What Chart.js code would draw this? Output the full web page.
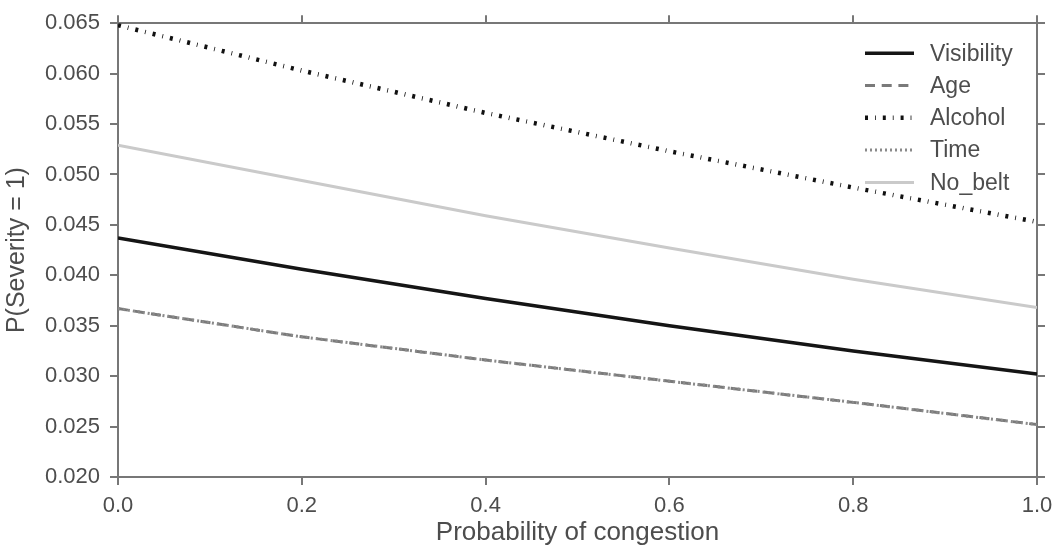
<!DOCTYPE html>
<html>
<head>
<meta charset="utf-8">
<script src="https://cdn.jsdelivr.net/npm/chart.js@4"></script>
<style>
  html, body { margin: 0; padding: 0; background: #fff; }
  #wrap { width: 1063px; height: 550px; }
</style>
</head>
<body>
<div id="wrap"><canvas id="chart"></canvas></div>
<script>
// values
const congestion = [0, 0.2, 0.4, 0.6, 0.8, 1.0];
const visibility = [0.0437, 0.0406, 0.0377, 0.0350, 0.0325, 0.0302];
const age = [0.0367, 0.0339, 0.0316, 0.0295, 0.0274, 0.0252];
const alcohol = [0.0648, 0.0603, 0.0561, 0.0523, 0.0487, 0.0453];
const time = [0.0367, 0.0339, 0.0316, 0.0295, 0.0274, 0.0252];
const noBelt = [0.0529, 0.0494, 0.0459, 0.0427, 0.0396, 0.0368];
const seriesNames = ["Visibility", "Age", "Alcohol", "Time", "No_belt"];

const FONT = "'Liberation Sans', Arial, sans-serif";
const TEXT = "#4d4d4d";
const AXIS = "#777777";

function points(ys) {
    return congestion.map(function (x, i) {
        return { x: x, y: ys[i] };
    });
}

var datasets = [
    { label: seriesNames[0], data: points(visibility), borderColor: "#151515", borderWidth: 3.5, borderDash: [], order: 5 },
    { label: seriesNames[1], data: points(age), borderColor: "#7a7a7a", borderWidth: 3, borderDash: [10, 6.7], order: 4 },
    { label: seriesNames[2], data: points(alcohol), borderColor: "#111111", borderWidth: 4.5, borderDash: [3, 7, 0.8, 7], order: 3 },
    { label: seriesNames[3], data: points(time), borderColor: "#8a8a8a", borderWidth: 3, borderDash: [2, 3], order: 2 },
    { label: seriesNames[4], data: points(noBelt), borderColor: "#cacaca", borderWidth: 3, borderDash: [], order: 1 },
];
datasets.forEach(function (d) {
    d.pointRadius = 0;
    d.tension = 0;
    d.fill = false;
});

// legend drawn inside the plot, top right, like the original
const insideLegend = {
    id: "insideLegend",
    afterDraw: function (chart) {
        var ctx = chart.ctx;
        var area = chart.chartArea;
        ctx.save();
        ctx.font = "23px " + FONT;
        ctx.textBaseline = "middle";
        ctx.fillStyle = TEXT;
        datasets.forEach(function (d, i) {
            var y = area.top + 30 + i * 32.3;
            ctx.beginPath();
            ctx.strokeStyle = d.borderColor;
            ctx.lineWidth = d.borderWidth;
            ctx.setLineDash(d.borderDash);
            ctx.moveTo(area.right - 172, y);
            ctx.lineTo(area.right - 123, y);
            ctx.stroke();
            ctx.setLineDash([]);
            ctx.fillText(d.label, area.right - 107, y + 1);
        });
        ctx.restore();
    },
};

function tickGrid() {
    return { display: true, drawOnChartArea: false, drawTicks: true, tickLength: 8, color: AXIS, lineWidth: 2 };
}

var ctx = document.getElementById("chart").getContext("2d");
var myChart = new Chart(ctx, {
    type: "line",
    data: { datasets: datasets },
    options: {
        responsive: true,
        maintainAspectRatio: false,
        animation: false,
        layout: { padding: 0 },
        plugins: {
            legend: { display: false },
            tooltip: { enabled: false },
        },
        scales: {
            x: {
                type: "linear",
                min: 0,
                max: 1,
                position: "bottom",
                grid: tickGrid(),
                border: { display: true, color: AXIS, width: 2 },
                ticks: {
                    stepSize: 0.2,
                    padding: 8,
                    color: TEXT,
                    font: { family: FONT, size: 22 },
                    maxRotation: 0,
                    callback: function (v) { return v.toFixed(1); },
                },
                title: {
                    display: true,
                    text: "Probability of congestion",
                    color: TEXT,
                    font: { family: FONT, size: 26 },
                    padding: { top: 0, bottom: 2 },
                },
                afterFit: function (s) { s.height = 73; },
            },
            x2: {
                type: "linear",
                min: 0,
                max: 1,
                position: "top",
                grid: tickGrid(),
                border: { display: true, color: AXIS, width: 2 },
                ticks: { stepSize: 0.2, display: false },
                afterFit: function (s) { s.height = 17; },
            },
            y: {
                type: "linear",
                min: 0.02,
                max: 0.065,
                position: "left",
                grid: tickGrid(),
                border: { display: true, color: AXIS, width: 2 },
                ticks: {
                    stepSize: 0.005,
                    padding: 10,
                    color: TEXT,
                    font: { family: FONT, size: 22 },
                    callback: function (v) { return v.toFixed(3); },
                },
                title: {
                    display: true,
                    text: "P(Severity = 1)",
                    color: TEXT,
                    font: { family: FONT, size: 25 },
                    padding: { top: 2, bottom: 0 },
                },
                afterFit: function (s) { s.width = 118; },
            },
            y2: {
                type: "linear",
                min: 0.02,
                max: 0.065,
                position: "right",
                grid: tickGrid(),
                border: { display: true, color: AXIS, width: 2 },
                ticks: { stepSize: 0.005, display: false },
                afterFit: function (s) { s.width = 26; },
            },
        },
    },
    plugins: [insideLegend],
});
</script>
</body>
</html>
